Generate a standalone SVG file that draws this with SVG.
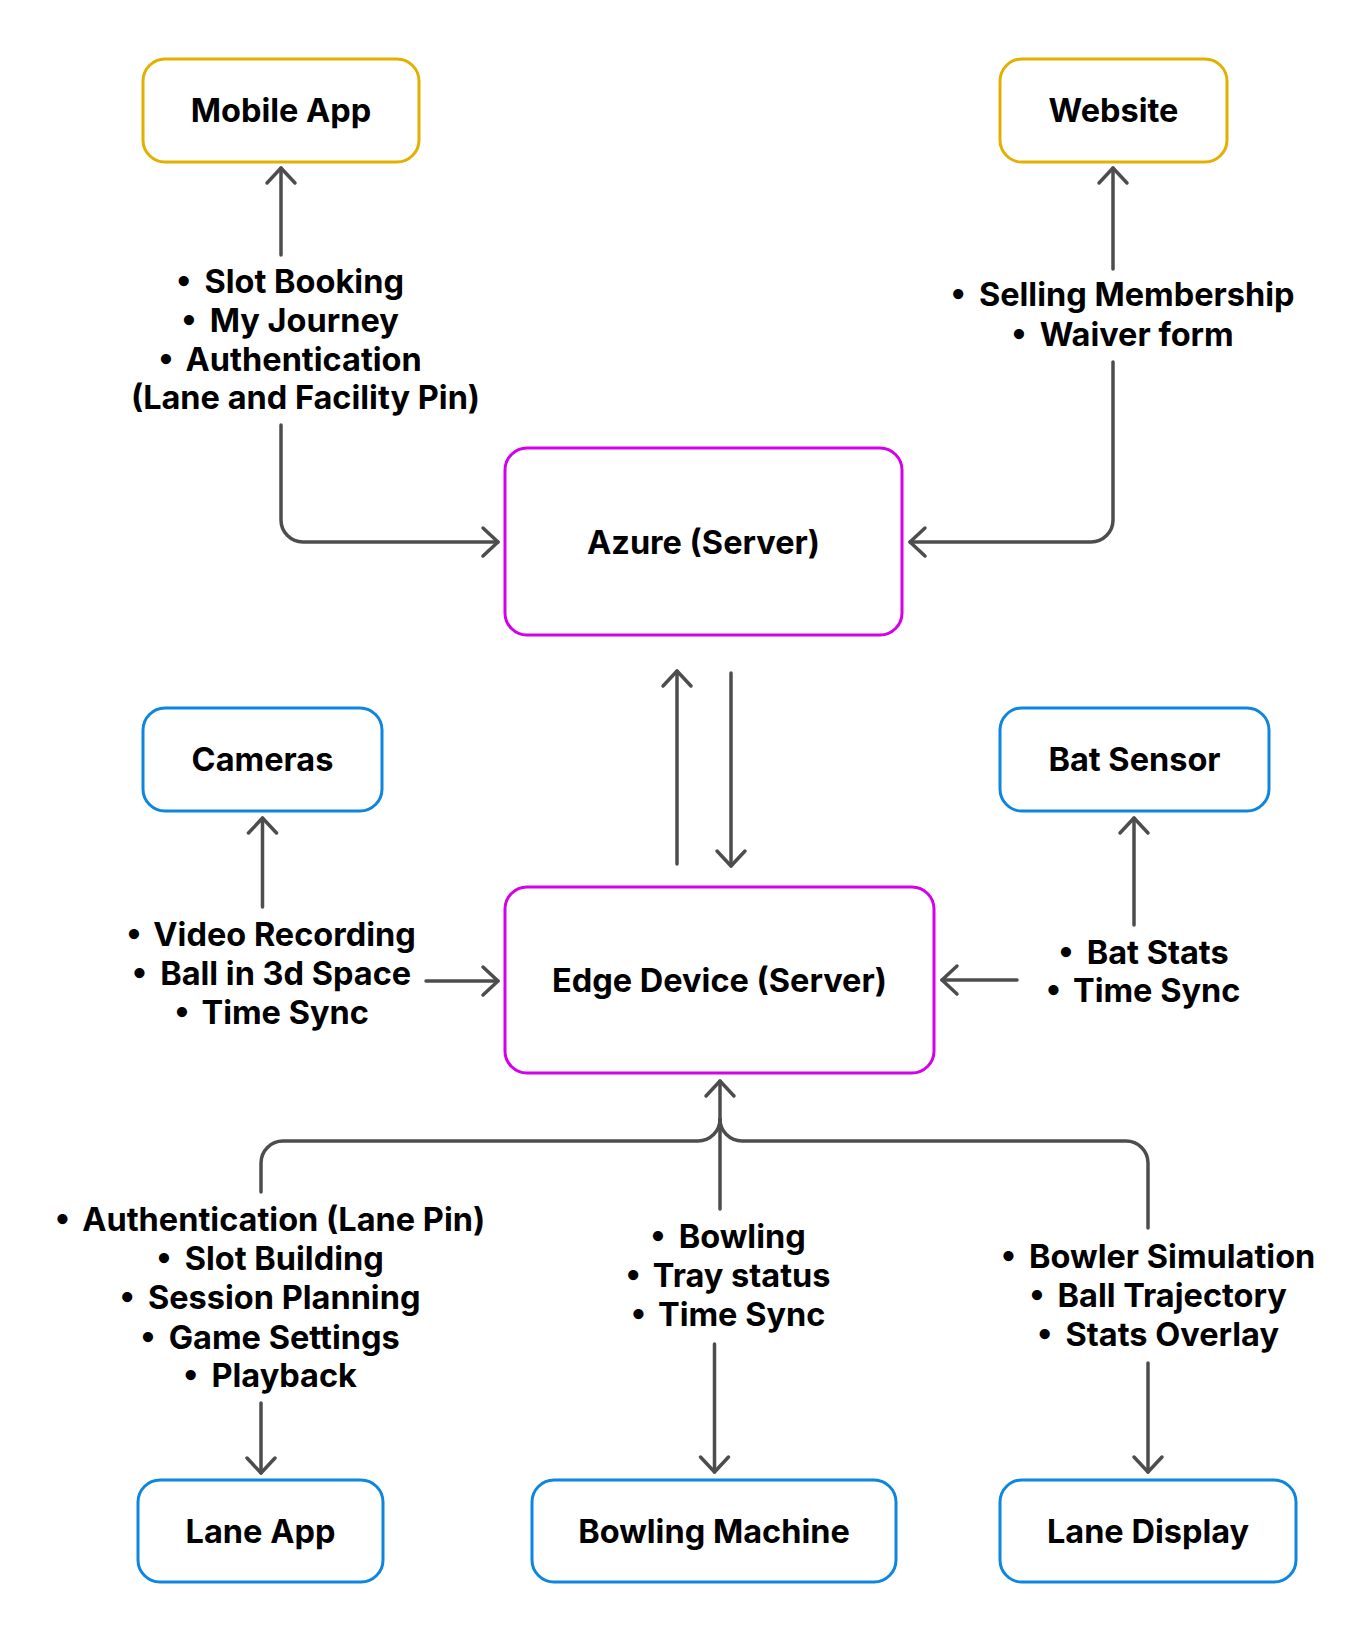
<svg xmlns="http://www.w3.org/2000/svg" width="1348" height="1645" viewBox="0 0 1348 1645">
<style>
.box{fill:#fff;stroke-width:3}
.gold{stroke:#E4B000}
.mag{stroke:#D500EB}
.blue{stroke:#0E86E0}
.nt{font-family:Inter,"Noto Sans","Liberation Sans",sans-serif;font-weight:700;font-size:32.5px;fill:#000;text-anchor:middle}
.lt{font-family:Inter,"Noto Sans","Liberation Sans",sans-serif;font-weight:700;font-size:32.5px;fill:#000;text-anchor:middle}
.c{fill:none;stroke:#4D4D4D;stroke-width:3.5;stroke-linecap:round;stroke-linejoin:round}
</style>
<defs>
<marker id="ah" viewBox="-18 -17 22 34" refX="0" refY="0" markerWidth="22" markerHeight="34" markerUnits="userSpaceOnUse" orient="auto">
<path d="M-15,-14 L0,0 L-15,14" fill="none" stroke="#4D4D4D" stroke-width="3.5" stroke-linecap="round" stroke-linejoin="round"/>
</marker>
</defs>
<rect width="1348" height="1645" fill="#fff"/>
<g id="connectors">
<path class="c" d="M281,255 L281,168" marker-end="url(#ah)"/>
<path class="c" d="M281,425 L281,520 A22,22 0 0 0 303,542 L498,542" marker-end="url(#ah)"/>
<path class="c" d="M1113,269 L1113,168" marker-end="url(#ah)"/>
<path class="c" d="M1113,362 L1113,520 A22,22 0 0 1 1091,542 L910,542" marker-end="url(#ah)"/>
<path class="c" d="M677,864 L677,671" marker-end="url(#ah)"/>
<path class="c" d="M731,673 L731,866" marker-end="url(#ah)"/>
<path class="c" d="M262.5,907 L262.5,818" marker-end="url(#ah)"/>
<path class="c" d="M426,981 L498,981" marker-end="url(#ah)"/>
<path class="c" d="M1134,925 L1134,818" marker-end="url(#ah)"/>
<path class="c" d="M1017,980 L942,980" marker-end="url(#ah)"/>
<path class="c" d="M720,1209 L720,1081" marker-end="url(#ah)"/>
<path class="c" d="M261,1192 L261,1163 A22,22 0 0 1 283,1141 L698,1141 A22,22 0 0 0 720,1119"/>
<path class="c" d="M1148,1228 L1148,1163 A22,22 0 0 0 1126,1141 L742,1141 A22,22 0 0 1 720,1119"/>
<path class="c" d="M261,1403 L261,1473" marker-end="url(#ah)"/>
<path class="c" d="M714.5,1344 L714.5,1472" marker-end="url(#ah)"/>
<path class="c" d="M1148,1363 L1148,1472" marker-end="url(#ah)"/>
</g>
<g id="labels">
<text class="lt" x="290" y="293">•<tspan dx="13">Slot Booking</tspan></text>
<text class="lt" x="290" y="332">•<tspan dx="13">My Journey</tspan></text>
<text class="lt" x="290" y="371">•<tspan dx="13">Authentication</tspan></text>
<text class="lt" x="305.5" y="409">(Lane and Facility Pin)</text>
<text class="lt" x="1122.5" y="306">•<tspan dx="13">Selling Membership</tspan></text>
<text class="lt" x="1122.5" y="346">•<tspan dx="13">Waiver form</tspan></text>
<text class="lt" x="271" y="946">•<tspan dx="13">Video Recording</tspan></text>
<text class="lt" x="271.5" y="985">•<tspan dx="13">Ball in 3d Space</tspan></text>
<text class="lt" x="271.5" y="1024">•<tspan dx="13">Time Sync</tspan></text>
<text class="lt" x="1143.5" y="963.5">•<tspan dx="13">Bat Stats</tspan></text>
<text class="lt" x="1143" y="1002">•<tspan dx="13">Time Sync</tspan></text>
<text class="lt" x="270" y="1231">•<tspan dx="13">Authentication (Lane Pin)</tspan></text>
<text class="lt" x="270" y="1270">•<tspan dx="13">Slot Building</tspan></text>
<text class="lt" x="270" y="1309">•<tspan dx="13">Session Planning</tspan></text>
<text class="lt" x="270" y="1349">•<tspan dx="13">Game Settings</tspan></text>
<text class="lt" x="270" y="1387">•<tspan dx="13">Playback</tspan></text>
<text class="lt" x="728" y="1248">•<tspan dx="13">Bowling</tspan></text>
<text class="lt" x="728" y="1287">•<tspan dx="13">Tray status</tspan></text>
<text class="lt" x="728" y="1326">•<tspan dx="13">Time Sync</tspan></text>
<text class="lt" x="1158" y="1268">•<tspan dx="13">Bowler Simulation</tspan></text>
<text class="lt" x="1158" y="1307">•<tspan dx="13">Ball Trajectory</tspan></text>
<text class="lt" x="1158" y="1346">•<tspan dx="13">Stats Overlay</tspan></text>
</g>
<g id="mobile-app"><rect class="box gold" x="143" y="59" width="276" height="103" rx="22"/><text class="nt" x="281" y="122">Mobile App</text></g>
<g id="website"><rect class="box gold" x="1000" y="59" width="227" height="103" rx="22"/><text class="nt" x="1113.5" y="122">Website</text></g>
<g id="azure"><rect class="box mag" x="505" y="448" width="397" height="187" rx="22"/><text class="nt" x="703.5" y="554">Azure (Server)</text></g>
<g id="cameras"><rect class="box blue" x="143" y="708" width="239" height="103" rx="22"/><text class="nt" x="262.5" y="771">Cameras</text></g>
<g id="bat-sensor"><rect class="box blue" x="1000" y="708" width="269" height="103" rx="22"/><text class="nt" x="1134.5" y="771">Bat Sensor</text></g>
<g id="edge-device"><rect class="box mag" x="505" y="887" width="429" height="186" rx="22"/><text class="nt" x="719.5" y="992">Edge Device (Server)</text></g>
<g id="lane-app"><rect class="box blue" x="138" y="1480" width="245" height="102" rx="22"/><text class="nt" x="260.5" y="1543">Lane App</text></g>
<g id="bowling-machine"><rect class="box blue" x="532" y="1480" width="364" height="102" rx="22"/><text class="nt" x="714" y="1543">Bowling Machine</text></g>
<g id="lane-display"><rect class="box blue" x="1000" y="1480" width="296" height="102" rx="22"/><text class="nt" x="1148" y="1543">Lane Display</text></g>
</svg>
